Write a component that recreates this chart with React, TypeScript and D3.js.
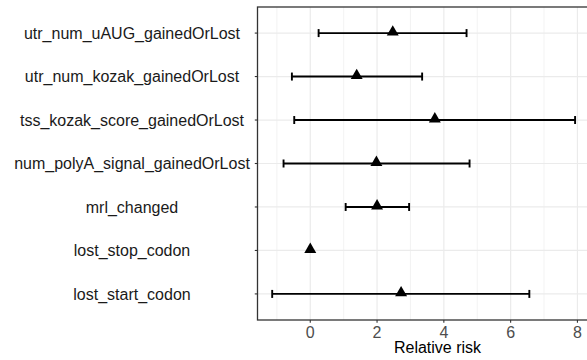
import React from "react";
import * as d3 from "d3";

// rows from top to bottom
const features = [
  "utr_num_uAUG_gainedOrLost",
  "utr_num_kozak_gainedOrLost",
  "tss_kozak_score_gainedOrLost",
  "num_polyA_signal_gainedOrLost",
  "mrl_changed",
  "lost_stop_codon",
  "lost_start_codon",
];
const estimate = [2.47, 1.39, 3.73, 1.98, 2.0, 0.0, 2.72];
const lower = [0.25, -0.55, -0.48, -0.8, 1.06, null, -1.14];
const upper = [4.68, 3.35, 7.93, 4.77, 2.96, null, 6.56];
const xTicks = [0, 2, 4, 6, 8];
const xMinor = [-1, 1, 3, 5, 7, 9];

const W = 587;
const H = 360;
const panel = { left: 257.5, top: 7, right: 617.5, bottom: 320 };

export default function App() {
  const x = d3.scaleLinear().domain([-1.58, 9.2]).range([panel.left, panel.right]);
  const y = d3
    .scalePoint<string>()
    .domain(features)
    .range([panel.top, panel.bottom])
    .padding(0.6);

  const tri = d3.symbol(d3.symbolTriangle, 62)() as string;
  const font = "Liberation Sans, Arial, sans-serif";

  return (
    <svg
      width={W}
      height={H}
      style={{ position: "absolute", left: 0, top: 0, background: "#fff" }}
    >
      <g>
        {/* minor grid */}
        {xMinor.map((t) => (
          <line
            key={"mn" + t}
            x1={x(t)}
            x2={x(t)}
            y1={panel.top}
            y2={panel.bottom}
            stroke="#ebebeb"
            strokeWidth={0.6}
          />
        ))}
        {/* major grid */}
        {xTicks.map((t) => (
          <line
            key={"mj" + t}
            x1={x(t)}
            x2={x(t)}
            y1={panel.top}
            y2={panel.bottom}
            stroke="#ebebeb"
            strokeWidth={1.2}
          />
        ))}
        {features.map((f) => (
          <line
            key={"h" + f}
            x1={panel.left}
            x2={panel.right}
            y1={y(f)}
            y2={y(f)}
            stroke="#ebebeb"
            strokeWidth={1.2}
          />
        ))}

        {/* error bars */}
        {features.map((f, i) => {
          const lo = lower[i];
          const hi = upper[i];
          if (lo == null || hi == null) return null;
          const cy = y(f)!;
          return (
            <g key={"e" + f} stroke="#000" strokeWidth={1.9}>
              <line x1={x(lo)} x2={x(hi)} y1={cy} y2={cy} />
              <line x1={x(lo)} x2={x(lo)} y1={cy - 4} y2={cy + 4} />
              <line x1={x(hi)} x2={x(hi)} y1={cy - 4} y2={cy + 4} />
            </g>
          );
        })}

        {/* points */}
        {features.map((f, i) => (
          <path
            key={"p" + f}
            d={tri}
            transform={`translate(${x(estimate[i])},${y(f)! - 1})`}
            fill="#000"
          />
        ))}

        {/* panel border */}
        <rect
          x={panel.left}
          y={panel.top}
          width={panel.right - panel.left}
          height={panel.bottom - panel.top}
          fill="none"
          stroke="#333"
          strokeWidth={1.3}
        />

        {/* y axis */}
        {features.map((f) => (
          <g key={"yl" + f}>
            <line
              x1={panel.left - 2.7}
              x2={panel.left}
              y1={y(f)}
              y2={y(f)}
              stroke="#333"
              strokeWidth={1.1}
            />
            <text
              x={132}
              y={y(f)}
              dy="0.35em"
              textAnchor="middle"
              fontFamily={font}
              fontSize={16}
              fill="#1a1a1a"
            >
              {f}
            </text>
          </g>
        ))}

        {/* x axis */}
        {xTicks.map((t) => (
          <g key={"xt" + t}>
            <line
              x1={x(t)}
              x2={x(t)}
              y1={panel.bottom}
              y2={panel.bottom + 2.7}
              stroke="#333"
              strokeWidth={1.1}
            />
            <text
              x={x(t)}
              y={337.5}
              textAnchor="middle"
              fontFamily={font}
              fontSize={16}
              fill="#4d4d4d"
            >
              {t}
            </text>
          </g>
        ))}
        <text
          x={(panel.left + panel.right) / 2}
          y={353}
          textAnchor="middle"
          fontFamily={font}
          fontSize={16}
          fill="#000"
        >
          Relative risk
        </text>
      </g>
    </svg>
  );
}
